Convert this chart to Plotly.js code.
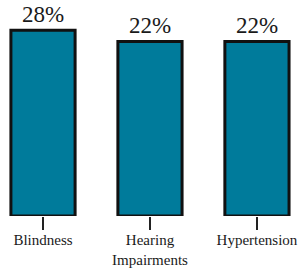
<!DOCTYPE html>
<html>
<head>
<meta charset="utf-8">
<script src="https://cdn.plot.ly/plotly-3.0.1.min.js"></script>
<style>html,body{margin:0;padding:0;background:#fff;}#chart{width:299px;height:269px;}</style>
</head>
<body>
<div id="chart"></div>
<script>
const categories = ["Blindness", "Hearing<br>Impairments", "Hypertension"];
const values = [28, 22, 22];
const valueLabels = ["28%", "22%", "22%"];

// The reference's bars share a truncated baseline (not zero-based)
const axisBase = -72.5;
const axisTop = 44.4;

const serif = "Liberation Serif";

const trace = {
  type: "bar",
  x: categories,
  y: values.map(v => v - axisBase),
  base: axisBase,
  width: 0.6,
  marker: { color: "#007b9b", line: { color: "#111", width: 3 } },
  text: valueLabels,
  textposition: "outside",
  cliponaxis: false,
  outsidetextfont: { family: serif, size: 23, color: "#1a1a1a" },
  textfont: { family: serif, size: 23, color: "#1a1a1a" },
  hoverinfo: "none"
};

const layout = {
  width: 299, height: 269,
  margin: { l: 0, r: 0, t: 0, b: 53 },
  font: { family: serif, color: "#222" },
  paper_bgcolor: "#fff", plot_bgcolor: "#fff",
  showlegend: false,
  xaxis: {
    type: "category",
    range: [-0.402, 2.393],
    ticks: "outside", ticklen: 13, tickwidth: 2.5, tickcolor: "#222",
    ticklabelstandoff: -3,
    showline: false, showgrid: false, zeroline: false,
    tickfont: { family: serif, size: 15, color: "#1a1a1a" }
  },
  yaxis: {
    range: [axisBase, axisTop],
    visible: false, showgrid: false, zeroline: false
  }
};

Plotly.newPlot("chart", [trace], layout, { staticPlot: true, displayModeBar: false });
</script>
</body>
</html>
